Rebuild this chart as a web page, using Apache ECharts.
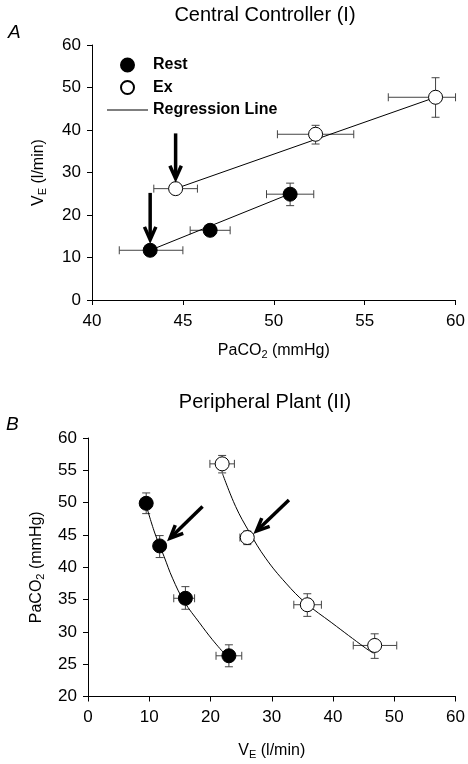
<!DOCTYPE html>
<html>
<head>
<meta charset="utf-8">
<script src="https://cdn.jsdelivr.net/npm/echarts@6/dist/echarts.min.js"></script>
<style>html,body{margin:0;padding:0;background:#fff}#c{width:468px;height:764px}</style>
</head>
<body>
<div id="c"></div>
<script>
// ---------- Panel A: Central Controller (x = PaCO2, y = VE) ----------
const restA_pco2    = [43.2, 46.5, 50.9];
const restA_ve      = [11.7, 16.4, 24.9];
const restA_pco2_lo = [41.5, 45.4, 49.6];
const restA_pco2_hi = [45.0, 47.6, 52.2];
const restA_ve_lo   = [11.0, 15.6, 22.2];
const restA_ve_hi   = [12.4, 17.2, 27.5];

const exA_pco2    = [44.6, 52.3, 58.9];
const exA_ve      = [26.2, 39.0, 47.7];
const exA_pco2_lo = [43.4, 50.2, 56.3];
const exA_pco2_hi = [45.8, 54.4, 60.0];
const exA_ve_lo   = [25.4, 36.7, 43.0];
const exA_ve_hi   = [27.0, 41.1, 52.3];

const regRestA_pco2 = [43.2, 50.9];
const regRestA_ve   = [11.7, 25.0];
const regExA_pco2   = [44.6, 58.9];
const regExA_ve     = [26.2, 47.7];

// arrows: [x start, y start, x tip, y tip]
const arrowsA = [[43.2, 25.2, 43.2, 14.2], [44.6, 39.2, 44.6, 28.6]];

// ---------- Panel B: Peripheral Plant (x = VE, y = PaCO2) ----------
const restB_ve      = [9.5, 11.7, 15.9, 23.0];
const restB_pco2    = [49.9, 43.3, 35.2, 26.3];
const restB_ve_lo   = [9.0, 11.2, 14.0, 20.9];
const restB_ve_hi   = [10.0, 12.2, 17.4, 25.1];
const restB_pco2_lo = [48.3, 41.5, 33.5, 24.6];
const restB_pco2_hi = [51.5, 44.9, 37.0, 28.0];

const exB_ve      = [21.9, 26.0, 35.8, 46.8];
const exB_pco2    = [56.0, 44.6, 34.2, 27.9];
const exB_ve_lo   = [19.9, 24.8, 33.6, 43.3];
const exB_ve_hi   = [23.9, 26.9, 38.1, 50.4];
const exB_pco2_lo = [54.6, 43.5, 32.4, 25.9];
const exB_pco2_hi = [57.3, 45.6, 35.9, 29.7];

const restFitB_ve   = [9.5, 10.9, 12.4, 13.8, 15.7, 18.2, 20.3, 22.2];
const restFitB_pco2 = [49.6, 45.3, 41.7, 38.3, 34.7, 31.4, 28.8, 26.7];
const exFitB_ve     = [21.95, 24.1, 26.3, 29.0, 32.3, 35.5, 39.8, 45.3, 46.6];
const exFitB_pco2   = [54.5, 49.4, 45.5, 41.4, 37.55, 34.5, 31.4, 27.5, 26.7];

const arrowsB = [[18.7, 49.4, 13.4, 44.5], [32.8, 50.4, 27.5, 45.6]];

// ---------- Axis ticks ----------
const xTicksA = {min: 40, max: 60, interval: 5};
const yTicksA = {min: 0, max: 60, interval: 10};
const xTicksB = {min: 0, max: 60, interval: 10};
const yTicksB = {min: 20, max: 60, interval: 5};

// ---------- helpers ----------
const FONT = "'Liberation Sans', Arial, Helvetica, sans-serif";
const zip = (...arrs) => arrs[0].map((_, i) => arrs.map(a => a[i]));

function errRender(params, api) {
  const x = api.value(0), y = api.value(1);
  const pL = api.coord([api.value(2), y]), pR = api.coord([api.value(3), y]);
  const pB = api.coord([x, api.value(4)]), pT = api.coord([x, api.value(5)]);
  const c = 4;
  const style = {stroke: '#444', lineWidth: 1, fill: null};
  const L = (x1, y1, x2, y2) => ({type: 'line', shape: {x1, y1, x2, y2}, style});
  return {type: 'group', children: [
    L(pL[0], pL[1], pR[0], pR[1]),
    L(pL[0], pL[1] - c, pL[0], pL[1] + c),
    L(pR[0], pR[1] - c, pR[0], pR[1] + c),
    L(pB[0], pB[1], pT[0], pT[1]),
    L(pB[0] - c, pB[1], pB[0] + c, pB[1]),
    L(pT[0] - c, pT[1], pT[0] + c, pT[1])
  ]};
}

function arrowRender(params, api) {
  const p1 = api.coord([api.value(0), api.value(1)]);
  const p2 = api.coord([api.value(2), api.value(3)]);
  const ang = Math.atan2(p2[1] - p1[1], p2[0] - p1[0]);
  const hl = 14, sp = 0.42;
  const h1 = [p2[0] - hl * Math.cos(ang - sp), p2[1] - hl * Math.sin(ang - sp)];
  const h2 = [p2[0] - hl * Math.cos(ang + sp), p2[1] - hl * Math.sin(ang + sp)];
  const pe = [p2[0] - 2 * Math.cos(ang), p2[1] - 2 * Math.sin(ang)];
  const style = {stroke: '#000', lineWidth: 3.5, fill: null, lineJoin: 'miter', lineCap: 'butt'};
  return {type: 'group', children: [
    {type: 'line', shape: {x1: p1[0], y1: p1[1], x2: pe[0], y2: pe[1]}, style},
    {type: 'polyline', shape: {points: [h1, p2, h2]}, style}
  ]};
}

const axisCommon = {
  type: 'value',
  axisLine: {show: true, lineStyle: {color: '#000', width: 1}},
  axisTick: {show: true, inside: false, length: 5, lineStyle: {color: '#000'}},
  splitLine: {show: false},
  axisLabel: {color: '#000', fontSize: 17, fontFamily: FONT},
  nameLocation: 'middle',
  nameTextStyle: {
    color: '#000', fontSize: 16, fontFamily: FONT,
    rich: {
      a: {fontSize: 16, fontFamily: FONT, color: '#000'},
      s: {fontSize: 11, fontFamily: FONT, color: '#000', padding: [8, 0, 0, 0]}
    }
  }
};

const restStyle = {color: '#000', borderColor: '#000', borderWidth: 1, opacity: 1};
const exStyle = {color: '#fff', borderColor: '#000', borderWidth: 1, opacity: 1};

const option = {
  backgroundColor: '#fff',
  animation: false,
  title: [
    {text: 'Central Controller (I)', left: 265, top: 5, textAlign: 'center', padding: 0,
     textStyle: {fontSize: 20, fontWeight: 'normal', color: '#000', fontFamily: FONT}},
    {text: 'A', left: 8, top: 23, padding: 0,
     textStyle: {fontSize: 19, fontWeight: 'normal', fontStyle: 'italic', color: '#000', fontFamily: FONT}},
    {text: 'Peripheral Plant (II)', left: 265, top: 392, textAlign: 'center', padding: 0,
     textStyle: {fontSize: 20, fontWeight: 'normal', color: '#000', fontFamily: FONT}},
    {text: 'B', left: 6, top: 415, padding: 0,
     textStyle: {fontSize: 19, fontWeight: 'normal', fontStyle: 'italic', color: '#000', fontFamily: FONT}}
  ],
  legend: {
    orient: 'vertical', left: 107, top: 57, padding: 0,
    itemWidth: 41, itemHeight: 13, itemGap: 6.5,
    textStyle: {fontSize: 16, fontWeight: 'bold', color: '#000', fontFamily: FONT},
    selectedMode: false,
    itemStyle: {opacity: 1},
    data: [
      {name: 'Rest', icon: 'circle'},
      {name: 'Ex', icon: 'circle'},
      {name: 'Regression Line', icon: 'path://M0,0L40,0L40,1.1L0,1.1Z'}
    ]
  },
  grid: [
    {left: 92, right: 12, top: 45, height: 255},
    {left: 88, right: 11, top: 438, height: 258.5}
  ],
  xAxis: [
    Object.assign({}, axisCommon, xTicksA, {gridIndex: 0, name: '{a|PaCO}{s|2}{a| (mmHg)}', nameGap: 41,
      axisLabel: Object.assign({}, axisCommon.axisLabel, {margin: 13})}),
    Object.assign({}, axisCommon, xTicksB, {gridIndex: 1, name: '{a|V}{s|E}{a| (l/min)}', nameGap: 45,
      axisLabel: Object.assign({}, axisCommon.axisLabel, {margin: 12})})
  ],
  yAxis: [
    Object.assign({}, axisCommon, yTicksA, {gridIndex: 0, name: '{a|V}{s|E}{a| (l/min)}', nameGap: 44,
      axisLabel: Object.assign({}, axisCommon.axisLabel, {margin: 11})}),
    Object.assign({}, axisCommon, yTicksB, {gridIndex: 1, name: '{a|PaCO}{s|2}{a| (mmHg)}', nameGap: 42,
      axisLabel: Object.assign({}, axisCommon.axisLabel, {margin: 11})})
  ],
  series: [
    // Panel A
    {name: 'Regression Line', type: 'line', xAxisIndex: 0, yAxisIndex: 0, symbol: 'none', z: 2,
     itemStyle: {color: '#000'}, lineStyle: {color: '#000', width: 1},
     data: zip(regRestA_pco2, regRestA_ve)},
    {name: 'Regression Line', type: 'line', xAxisIndex: 0, yAxisIndex: 0, symbol: 'none', z: 2,
     itemStyle: {color: '#000'}, lineStyle: {color: '#000', width: 1},
     data: zip(regExA_pco2, regExA_ve)},
    {name: 'errA', type: 'custom', xAxisIndex: 0, yAxisIndex: 0, z: 1, renderItem: errRender,
     encode: {x: 0, y: 1},
     data: zip(restA_pco2, restA_ve, restA_pco2_lo, restA_pco2_hi, restA_ve_lo, restA_ve_hi)
       .concat(zip(exA_pco2, exA_ve, exA_pco2_lo, exA_pco2_hi, exA_ve_lo, exA_ve_hi))},
    {name: 'Rest', type: 'scatter', xAxisIndex: 0, yAxisIndex: 0, symbol: 'circle', symbolSize: 14, z: 5,
     itemStyle: restStyle, data: zip(restA_pco2, restA_ve)},
    {name: 'Ex', type: 'scatter', xAxisIndex: 0, yAxisIndex: 0, symbol: 'circle', symbolSize: 14, z: 5,
     itemStyle: exStyle, data: zip(exA_pco2, exA_ve)},
    {name: 'arrowsA', type: 'custom', xAxisIndex: 0, yAxisIndex: 0, z: 6, renderItem: arrowRender,
     encode: {x: 0, y: 1}, data: arrowsA},
    // Panel B
    {name: 'fitRestB', type: 'line', xAxisIndex: 1, yAxisIndex: 1, symbol: 'none', smooth: 0.4, z: 2,
     lineStyle: {color: '#000', width: 1}, data: zip(restFitB_ve, restFitB_pco2)},
    {name: 'fitExB', type: 'line', xAxisIndex: 1, yAxisIndex: 1, symbol: 'none', smooth: 0.4, z: 2,
     lineStyle: {color: '#000', width: 1}, data: zip(exFitB_ve, exFitB_pco2)},
    {name: 'errB', type: 'custom', xAxisIndex: 1, yAxisIndex: 1, z: 1, renderItem: errRender,
     encode: {x: 0, y: 1},
     data: zip(restB_ve, restB_pco2, restB_ve_lo, restB_ve_hi, restB_pco2_lo, restB_pco2_hi)
       .concat(zip(exB_ve, exB_pco2, exB_ve_lo, exB_ve_hi, exB_pco2_lo, exB_pco2_hi))},
    {name: 'Rest', type: 'scatter', xAxisIndex: 1, yAxisIndex: 1, symbol: 'circle', symbolSize: 14, z: 5,
     itemStyle: restStyle, data: zip(restB_ve, restB_pco2)},
    {name: 'Ex', type: 'scatter', xAxisIndex: 1, yAxisIndex: 1, symbol: 'circle', symbolSize: 14, z: 5,
     itemStyle: exStyle, data: zip(exB_ve, exB_pco2)},
    {name: 'arrowsB', type: 'custom', xAxisIndex: 1, yAxisIndex: 1, z: 6, renderItem: arrowRender,
     encode: {x: 0, y: 1}, data: arrowsB}
  ]
};

const chart = echarts.init(document.getElementById('c'), null, {renderer: 'canvas'});
chart.setOption(option);
</script>
</body>
</html>
